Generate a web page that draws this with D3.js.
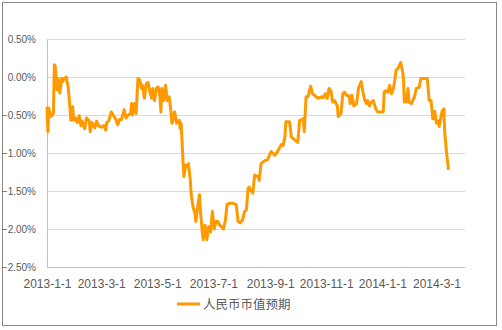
<!DOCTYPE html>
<html>
<head>
<meta charset="utf-8">
<script src="https://cdn.jsdelivr.net/npm/d3@7"></script>
<style>
  body { margin: 0; background: #fff; }
  .axis text { font-family: "Liberation Sans", Arial, sans-serif; fill: #595959; }
  .grid line { stroke: #d9d9d9; }
  .grid path { stroke: none; }
</style>
</head>
<body>
<div class="viz"></div>
<script>
	// data (trading days, % value)
	var dates = [
		'2013-01-01','2013-01-02','2013-01-03','2013-01-05','2013-01-07','2013-01-08','2013-01-09','2013-01-10','2013-01-12','2013-01-13',
		'2013-01-15','2013-01-17','2013-01-18','2013-01-20','2013-01-22','2013-01-24','2013-01-25','2013-01-27','2013-01-29','2013-01-30',
		'2013-02-01','2013-02-03','2013-02-05','2013-02-07','2013-02-08','2013-02-11','2013-02-13','2013-02-16','2013-02-17','2013-02-19',
		'2013-02-22','2013-02-24','2013-02-26','2013-03-01','2013-03-04','2013-03-06','2013-03-07','2013-03-09','2013-03-12','2013-03-14',
		'2013-03-17','2013-03-19','2013-03-21','2013-03-23','2013-03-26','2013-03-28','2013-03-30','2013-04-02','2013-04-03','2013-04-04',
		'2013-04-06','2013-04-08','2013-04-10','2013-04-12','2013-04-14','2013-04-15','2013-04-17','2013-04-19','2013-04-21','2013-04-23',
		'2013-04-25','2013-04-26','2013-04-28','2013-04-30','2013-05-02','2013-05-04','2013-05-05','2013-05-06','2013-05-08','2013-05-10',
		'2013-05-12','2013-05-14','2013-05-16','2013-05-17','2013-05-20','2013-05-22','2013-05-25','2013-05-26','2013-05-27','2013-05-29',
		'2013-05-30','2013-06-01','2013-06-03','2013-06-04','2013-06-06','2013-06-07','2013-06-09','2013-06-11','2013-06-12','2013-06-14',
		'2013-06-16','2013-06-17','2013-06-19','2013-06-20','2013-06-22','2013-06-24','2013-06-26','2013-06-28','2013-06-30','2013-07-02',
		'2013-07-04','2013-07-06','2013-07-08','2013-07-10','2013-07-12','2013-07-14','2013-07-16','2013-07-19','2013-07-22','2013-07-26',
		'2013-07-28','2013-07-30','2013-08-02','2013-08-04','2013-08-06','2013-08-08','2013-08-09','2013-08-13','2013-08-15','2013-08-19',
		'2013-08-20','2013-08-22','2013-08-26','2013-08-29','2013-09-02','2013-09-06','2013-09-09','2013-09-13','2013-09-15','2013-09-17',
		'2013-09-18','2013-09-22','2013-09-24','2013-09-28','2013-10-01','2013-10-03','2013-10-07','2013-10-08','2013-10-10','2013-10-12',
		'2013-10-15','2013-10-17','2013-10-21','2013-10-23','2013-10-27','2013-10-29','2013-10-31','2013-11-02','2013-11-04','2013-11-06',
		'2013-11-08','2013-11-10','2013-11-13','2013-11-14','2013-11-17','2013-11-19','2013-11-21','2013-11-23','2013-11-26','2013-11-27',
		'2013-11-29','2013-12-01','2013-12-04','2013-12-06','2013-12-09','2013-12-11','2013-12-13','2013-12-15','2013-12-16','2013-12-18',
		'2013-12-20','2013-12-22','2013-12-25','2013-12-27','2013-12-31','2014-01-02','2014-01-03','2014-01-05','2014-01-07','2014-01-09',
		'2014-01-11','2014-01-13','2014-01-14','2014-01-16','2014-01-18','2014-01-21','2014-01-23','2014-01-24','2014-01-25','2014-01-27',
		'2014-01-29','2014-01-30','2014-02-02','2014-02-03','2014-02-05','2014-02-07','2014-02-10','2014-02-12','2014-02-15','2014-02-18',
		'2014-02-19','2014-02-21','2014-02-23','2014-02-25','2014-02-26','2014-02-27','2014-03-01','2014-03-03','2014-03-04','2014-03-07',
		'2014-03-09','2014-03-10','2014-03-12','2014-03-14'
	];

	var values = [
		-0.39,-0.72,-0.41,-0.52,-0.50,-0.47,0.16,0.14,-0.17,-0.02,
		-0.21,-0.02,-0.06,-0.02,0.00,-0.13,-0.26,-0.57,-0.39,-0.57,
		-0.54,-0.60,-0.51,-0.64,-0.58,-0.68,-0.54,-0.58,-0.72,-0.60,
		-0.67,-0.58,-0.64,-0.66,-0.64,-0.70,-0.60,-0.58,-0.46,-0.50,
		-0.56,-0.63,-0.56,-0.56,-0.43,-0.54,-0.50,-0.48,-0.35,-0.50,
		-0.35,-0.48,-0.02,-0.04,-0.15,-0.11,-0.28,-0.09,-0.07,-0.20,
		-0.28,-0.15,-0.31,-0.15,-0.13,-0.26,-0.46,-0.15,-0.31,-0.11,
		-0.31,-0.26,-0.46,-0.61,-0.46,-0.61,-0.57,-0.68,-0.61,-1.09,
		-1.31,-1.16,-1.17,-1.14,-1.36,-1.55,-1.71,-1.79,-1.90,-1.71,
		-1.55,-1.76,-2.04,-2.14,-1.95,-2.14,-1.97,-2.04,-1.77,-2.00,
		-1.90,-1.90,-1.95,-1.97,-2.00,-1.90,-1.68,-1.66,-1.66,-1.68,
		-1.90,-1.92,-1.88,-1.77,-1.75,-1.46,-1.45,-1.53,-1.29,-1.31,
		-1.36,-1.14,-1.10,-1.09,-0.98,-1.03,-0.98,-0.89,-0.90,-0.79,
		-0.59,-0.59,-0.79,-0.83,-0.86,-0.57,-0.55,-0.72,-0.26,-0.26,
		-0.12,-0.22,-0.26,-0.28,-0.26,-0.27,-0.22,-0.28,-0.15,-0.18,
		-0.33,-0.31,-0.38,-0.52,-0.48,-0.22,-0.20,-0.24,-0.25,-0.35,
		-0.24,-0.38,-0.35,-0.15,-0.06,-0.20,-0.31,-0.35,-0.31,-0.38,
		-0.33,-0.31,-0.42,-0.46,-0.46,-0.46,-0.20,-0.18,-0.20,-0.11,
		-0.22,-0.15,-0.09,0.09,0.11,0.19,0.08,-0.02,-0.33,-0.33,
		-0.15,-0.33,-0.35,-0.31,-0.26,-0.15,-0.14,-0.02,-0.02,-0.02,
		-0.02,-0.31,-0.31,-0.55,-0.55,-0.45,-0.61,-0.58,-0.65,-0.45,
		-0.42,-0.74,-1.00,-1.22
	];

	var yTicks = [0.5, 0, -0.5, -1, -1.5, -2, -2.5];
	var xTicks = ['2013-01-01','2013-03-01','2013-05-01','2013-07-01','2013-09-01','2013-11-01','2014-01-01','2014-03-01'];
	var seriesName = '人民币币值预期';

	var parseDate = d3.timeParse('%Y-%m-%d');
	var data = dates.map(function(d, i){ return {date: parseDate(d), value: values[i]}; });

	// Defining SVG
	var margin = {top: 39, right: 37, bottom: 63, left: 47};
	var width = 502 - margin.left - margin.right;
	var height = 330 - margin.top - margin.bottom;

	var root = d3.select('.viz')
		.append('svg')
		.attr('width', 502)
		.attr('height', 330);

	// outer frame
	root.append('rect')
		.attr('x', 2.5)
		.attr('y', 2.5)
		.attr('width', 494)
		.attr('height', 323)
		.attr('fill', '#fff')
		.attr('stroke', '#888');

	var svg = root.append('g')
		.attr('transform', 'translate(' + margin.left + ',' + margin.top + ')');

	//Defining Scales
	var xScale = d3.scaleTime()
		.domain([parseDate('2013-01-01'), parseDate('2014-04-01')])
		.range([0, width]);

	var yScale = d3.scaleLinear()
		.domain([-2.5, 0.5])
		.range([height, 0]);

	// gridlines
	svg.append('g')
		.attr('class', 'grid')
		.call(d3.axisLeft(yScale)
			.tickValues(yTicks)
			.tickSize(-width)
			.tickFormat('')
		);

	// y axis labels
	svg.append('g')
		.attr('class', 'axis')
		.call(d3.axisLeft(yScale)
			.tickValues(yTicks)
			.tickSize(0)
			.tickPadding(11)
			.tickFormat(function(d){ return d3.format('.2f')(d) + '%'; })
		)
		.call(function(g){ g.select('.domain').attr('stroke', '#bfbfbf'); })
		.selectAll('text')
		.style('font-size', '10px');

	// x axis
	svg.append('g')
		.attr('class', 'axis')
		.attr('transform', 'translate(0,' + height + ')')
		.call(d3.axisBottom(xScale)
			.tickValues(xTicks.map(parseDate))
			.tickSize(0)
			.tickPadding(12)
			.tickFormat(d3.timeFormat('%Y-%-m-%-d'))
		)
		.call(function(g){ g.select('.domain').attr('stroke', '#bfbfbf'); })
		.selectAll('text')
		.style('font-size', '12px');

	// the line
	var line = d3.line()
		.x(function(d){ return xScale(d.date); })
		.y(function(d){ return yScale(d.value); });

	svg.append('path')
		.datum(data)
		.attr('fill', 'none')
		.attr('stroke', '#ff9900')
		.attr('stroke-width', 3)
		.attr('stroke-linejoin', 'round')
		.attr('d', line);

	// legend
	var legend = root.append('g')
		.attr('transform', 'translate(177,304)');

	legend.append('line')
		.attr('x1', 0)
		.attr('x2', 23)
		.attr('stroke', '#ff9900')
		.attr('stroke-width', 3);

	legend.append('text')
		.attr('x', 26)
		.attr('y', 4.5)
		.style('font-family', '"Noto Sans CJK SC", sans-serif')
		.style('font-size', '12.5px')
		.style('fill', '#595959')
		.text(seriesName);
</script>
</body>
</html>
